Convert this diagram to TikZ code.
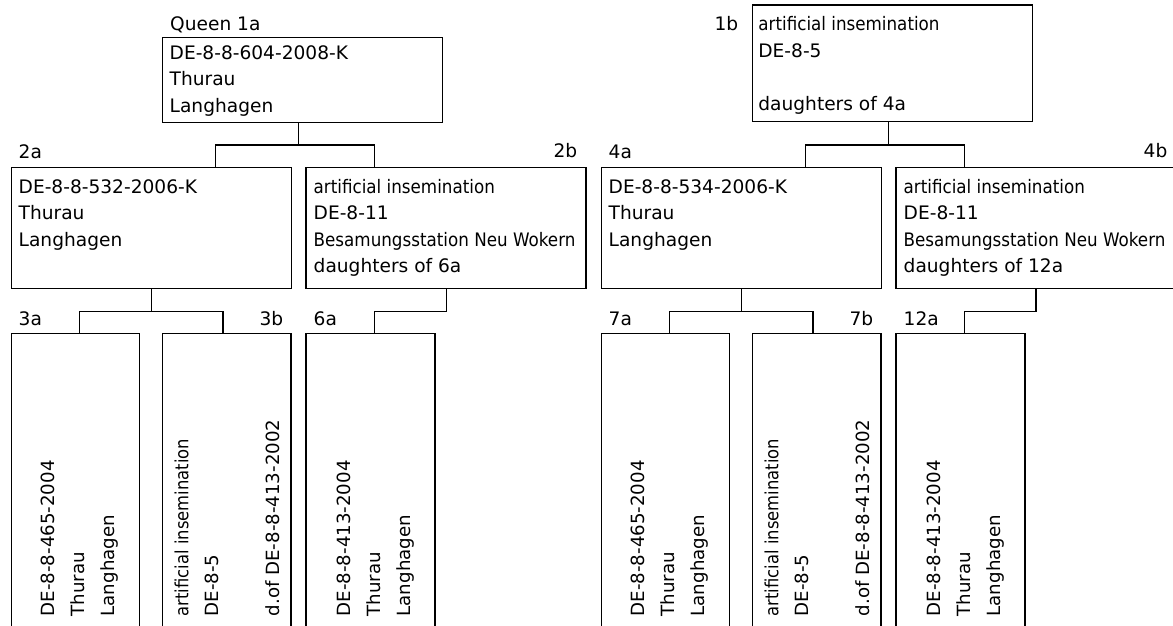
\documentclass[tikz,border=0pt]{standalone}
\usepackage{fontspec}
\setmainfont{DejaVu Sans}
\newfontfamily\cond{DejaVu Sans}[FakeStretch=0.9]
\begin{document}
\begin{tikzpicture}[x=1pt,y=-1pt,
  box/.style={draw, line width=1.3pt, rectangle, inner sep=0pt, outer sep=0pt, anchor=north west, minimum width=280pt},
  tall/.style={box, minimum height=120.6pt},
  low/.style={box, minimum height=400pt},
  txt/.style={anchor=base west, inner sep=0pt, font=\fontsize{18.6}{26.5}\selectfont},
  lbl/.style={inner sep=0pt, font=\fontsize{18.6}{26.5}\selectfont},
  rtxt/.style={rotate=90, anchor=base west, inner sep=0pt, font=\fontsize{18.2}{30.3}\selectfont},
  conn/.style={line width=1.3pt}]
\useasboundingbox (0,0) rectangle (1173,625);
\fill[white] (0,0) rectangle (1173,625);
\begin{scope}
\clip (0,0) rectangle (1173,625);
% ---------------- left tree ----------------
\node[lbl, anchor=base west] (l1a) at (170,30) {Queen 1a};
\node[box, minimum height=84.6pt] (b1a) at (162.7,37.7) {};
\node[txt] (t1a) at (169.5,59.3) {\begin{tabular}[t]{@{}l@{}}DE-8-8-604-2008-K\\Thurau\\Langhagen\end{tabular}};

\node[lbl, anchor=base west] (l2a) at (18.5,158.3) {2a};
\node[tall] (b2a) at (11.7,167.7) {};
\node[txt] (t2a) at (18.5,193.3) {\begin{tabular}[t]{@{}l@{}}DE-8-8-532-2006-K\\Thurau\\Langhagen\end{tabular}};

\node[lbl, anchor=base east] (l2b) at (577.5,157.3) {2b};
\node[tall] (b2b) at (306,167.7) {};
\node[txt] (t2b) at (313.5,193.3) {\begin{tabular}[t]{@{}l@{}}{\cond artificial insemination}\\DE-8-11\\{\cond Besamungsstation Neu Wokern}\\daughters of 6a\end{tabular}};

\node[lbl, anchor=base west] (l3a) at (18.5,325) {3a};
\node[lbl, anchor=base east] (l3b) at (283.5,325) {3b};
\node[lbl, anchor=base west] (l6a) at (313.5,325) {6a};
\node[low, minimum width=127.6pt] (b3a) at (11.7,333.7) {};
\node[low, minimum width=128.3pt] (b3b) at (162.7,333.7) {};
\node[low, minimum width=129pt] (b6a) at (306,333.7) {};
\node[rtxt] (t3a) at (54.3,616.5) {\begin{tabular}[t]{@{}l@{}}DE-8-8-465-2004\\Thurau\\Langhagen\end{tabular}};
\node[rtxt] (t3b) at (188.3,616.5) {\begin{tabular}[t]{@{}l@{}}{\cond artificial insemination}\\DE-8-5\\ \\d.of DE-8-8-413-2002\end{tabular}};
\node[rtxt] (t6a) at (350,616.5) {\begin{tabular}[t]{@{}l@{}}DE-8-8-413-2004\\Thurau\\Langhagen\end{tabular}};

\coordinate (k1a) at (298.7,145);
\coordinate (j2a) at (215.7,145);
\coordinate (j2b) at (374.7,145);
\draw[conn] (k1a |- b1a.south) -- (k1a);
\draw[conn] (j2a |- b2a.north) -- (j2a) -- (j2b) -- (j2b |- b2b.north);

\coordinate (k2a) at (151.7,311.7);
\coordinate (j3a) at (79.3,311.7);
\coordinate (j3b) at (223,311.7);
\draw[conn] (k2a |- b2a.south) -- (k2a);
\draw[conn] (j3a |- b3a.north) -- (j3a) -- (j3b) -- (j3b |- b3b.north);

\coordinate (k2b) at (446.7,311.7);
\coordinate (j6a) at (374.3,311.7);
\draw[conn] (k2b |- b2b.south) -- (k2b) -- (j6a) -- (j6a |- b6a.north);

% ---------------- right tree ----------------
\node[lbl, anchor=base east] (l1b) at (738.5,30.7) {1b};
\node[box, minimum height=116.7pt] (b1b) at (752.3,5) {};
\node[txt] (t1b) at (758.2,30.7) {\begin{tabular}[t]{@{}l@{}}{\cond artificial insemination}\\DE-8-5\\ \\daughters of 4a\end{tabular}};

\node[lbl, anchor=base west] (l4a) at (608.5,158.3) {4a};
\node[tall] (b4a) at (601.7,167.7) {};
\node[txt] (t4a) at (608.5,193.3) {\begin{tabular}[t]{@{}l@{}}DE-8-8-534-2006-K\\Thurau\\Langhagen\end{tabular}};

\node[lbl, anchor=base east] (l4b) at (1167.5,157.3) {4b};
\node[tall] (b4b) at (896,167.7) {};
\node[txt] (t4b) at (903.5,193.3) {\begin{tabular}[t]{@{}l@{}}{\cond artificial insemination}\\DE-8-11\\{\cond Besamungsstation Neu Wokern}\\daughters of 12a\end{tabular}};

\node[lbl, anchor=base west] (l7a) at (608.5,325) {7a};
\node[lbl, anchor=base east] (l7b) at (873.5,325) {7b};
\node[lbl, anchor=base west] (l12a) at (903.5,325) {12a};
\node[low, minimum width=127.6pt] (b7a) at (601.7,333.7) {};
\node[low, minimum width=128.3pt] (b7b) at (752.7,333.7) {};
\node[low, minimum width=129pt] (b12a) at (896,333.7) {};
\node[rtxt] (t7a) at (644.3,616.5) {\begin{tabular}[t]{@{}l@{}}DE-8-8-465-2004\\Thurau\\Langhagen\end{tabular}};
\node[rtxt] (t7b) at (778.3,616.5) {\begin{tabular}[t]{@{}l@{}}{\cond artificial insemination}\\DE-8-5\\ \\d.of DE-8-8-413-2002\end{tabular}};
\node[rtxt] (t12a) at (940,616.5) {\begin{tabular}[t]{@{}l@{}}DE-8-8-413-2004\\Thurau\\Langhagen\end{tabular}};

\coordinate (k1b) at (888.7,145);
\coordinate (j4a) at (805.7,145);
\coordinate (j4b) at (964.3,145);
\draw[conn] (k1b |- b1b.south) -- (k1b);
\draw[conn] (j4a |- b4a.north) -- (j4a) -- (j4b) -- (j4b |- b4b.north);

\coordinate (k4a) at (741.7,311.7);
\coordinate (j7a) at (669.3,311.7);
\coordinate (j7b) at (813,311.7);
\draw[conn] (k4a |- b4a.south) -- (k4a);
\draw[conn] (j7a |- b7a.north) -- (j7a) -- (j7b) -- (j7b |- b7b.north);

\coordinate (k4b) at (1036,311.7);
\coordinate (j12a) at (964.3,311.7);
\draw[conn] (k4b |- b4b.south) -- (k4b) -- (j12a) -- (j12a |- b12a.north);
\end{scope}
\end{tikzpicture}
\end{document}
